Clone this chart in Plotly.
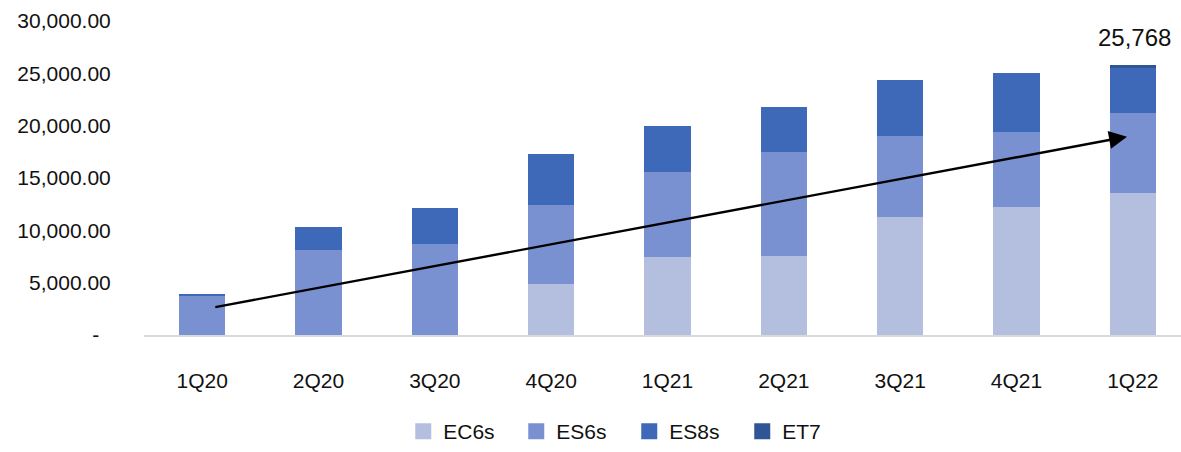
import plotly.graph_objects as go

quarters = ["1Q20", "2Q20", "3Q20", "4Q20", "1Q21", "2Q21", "3Q21", "4Q21", "1Q22"]
ec6s = [0, 0, 0, 4900, 7450, 7550, 11300, 12200, 13600]
es6s = [3750, 8100, 8650, 7550, 8100, 9900, 7750, 7200, 7600]
es8s = [90, 2180, 3500, 4800, 4450, 4350, 5300, 5600, 4400]
et7 = [0, 0, 0, 0, 0, 0, 0, 0, 168]
y_ticks = [0, 5000, 10000, 15000, 20000, 25000, 30000]
y_ticktext = ["-\u00a0\u00a0", "5,000.00", "10,000.00", "15,000.00", "20,000.00", "25,000.00", "30,000.00"]
trend_start = (0.1, 2640)
trend_end = (7.95, 18950)

series = [("EC6s", ec6s, "#b4bedf"), ("ES6s", es6s, "#7991d0"),
          ("ES8s", es8s, "#3e68b8"), ("ET7", et7, "#2f5597")]

fig = go.Figure()
for name, vals, col in series:
    fig.add_trace(go.Bar(x=quarters, y=vals, name=name, marker_color=col,
                         marker_line_width=0, width=0.4, showlegend=False))
for name, vals, col in series:
    fig.add_trace(go.Scatter(x=[None], y=[None], mode="markers", name=name,
                             marker=dict(symbol="square", size=17, color=col)))

totals = [a + b + c + d for a, b, c, d in zip(ec6s, es6s, es8s, et7)]
total_last = 25768

fig.add_annotation(x=quarters[-1], y=totals[-1], text=f"{total_last:,}", showarrow=False,
                   yanchor="bottom", yshift=12, xshift=2,
                   font=dict(size=24, color="#111111", family="Liberation Sans, Arial"))
fig.add_annotation(x=trend_end[0], y=trend_end[1], ax=trend_start[0], ay=trend_start[1],
                   xref="x", yref="y", axref="x", ayref="y", showarrow=True,
                   arrowhead=2, arrowsize=1.5, arrowwidth=2.4, arrowcolor="#000000",
                   text="")

fig.update_layout(
    barmode="stack",
    width=1181, height=452,
    margin=dict(l=144, r=0, t=21, b=113),
    plot_bgcolor="white", paper_bgcolor="white",
    font=dict(family="Liberation Sans, Arial", size=20, color="#111111"),
    legend=dict(orientation="h", x=0.25, xanchor="left", y=-0.308, yanchor="middle",
                font=dict(size=21), entrywidth=68, entrywidthmode="pixels", traceorder="normal"),
    xaxis=dict(type="category", range=[-0.5, 8.414], showgrid=False, showline=True,
               linecolor="#d9d9d9", linewidth=2, ticks="outside", ticklen=26,
               tickcolor="rgba(0,0,0,0)", tickfont=dict(size=21)),
    yaxis=dict(range=[0, 30000], tickvals=y_ticks, ticktext=y_ticktext, showgrid=False,
               zeroline=False, showline=False, ticks="outside", ticklen=28,
               tickcolor="rgba(0,0,0,0)", tickfont=dict(size=21)),
)

fig.write_html("out.html")
